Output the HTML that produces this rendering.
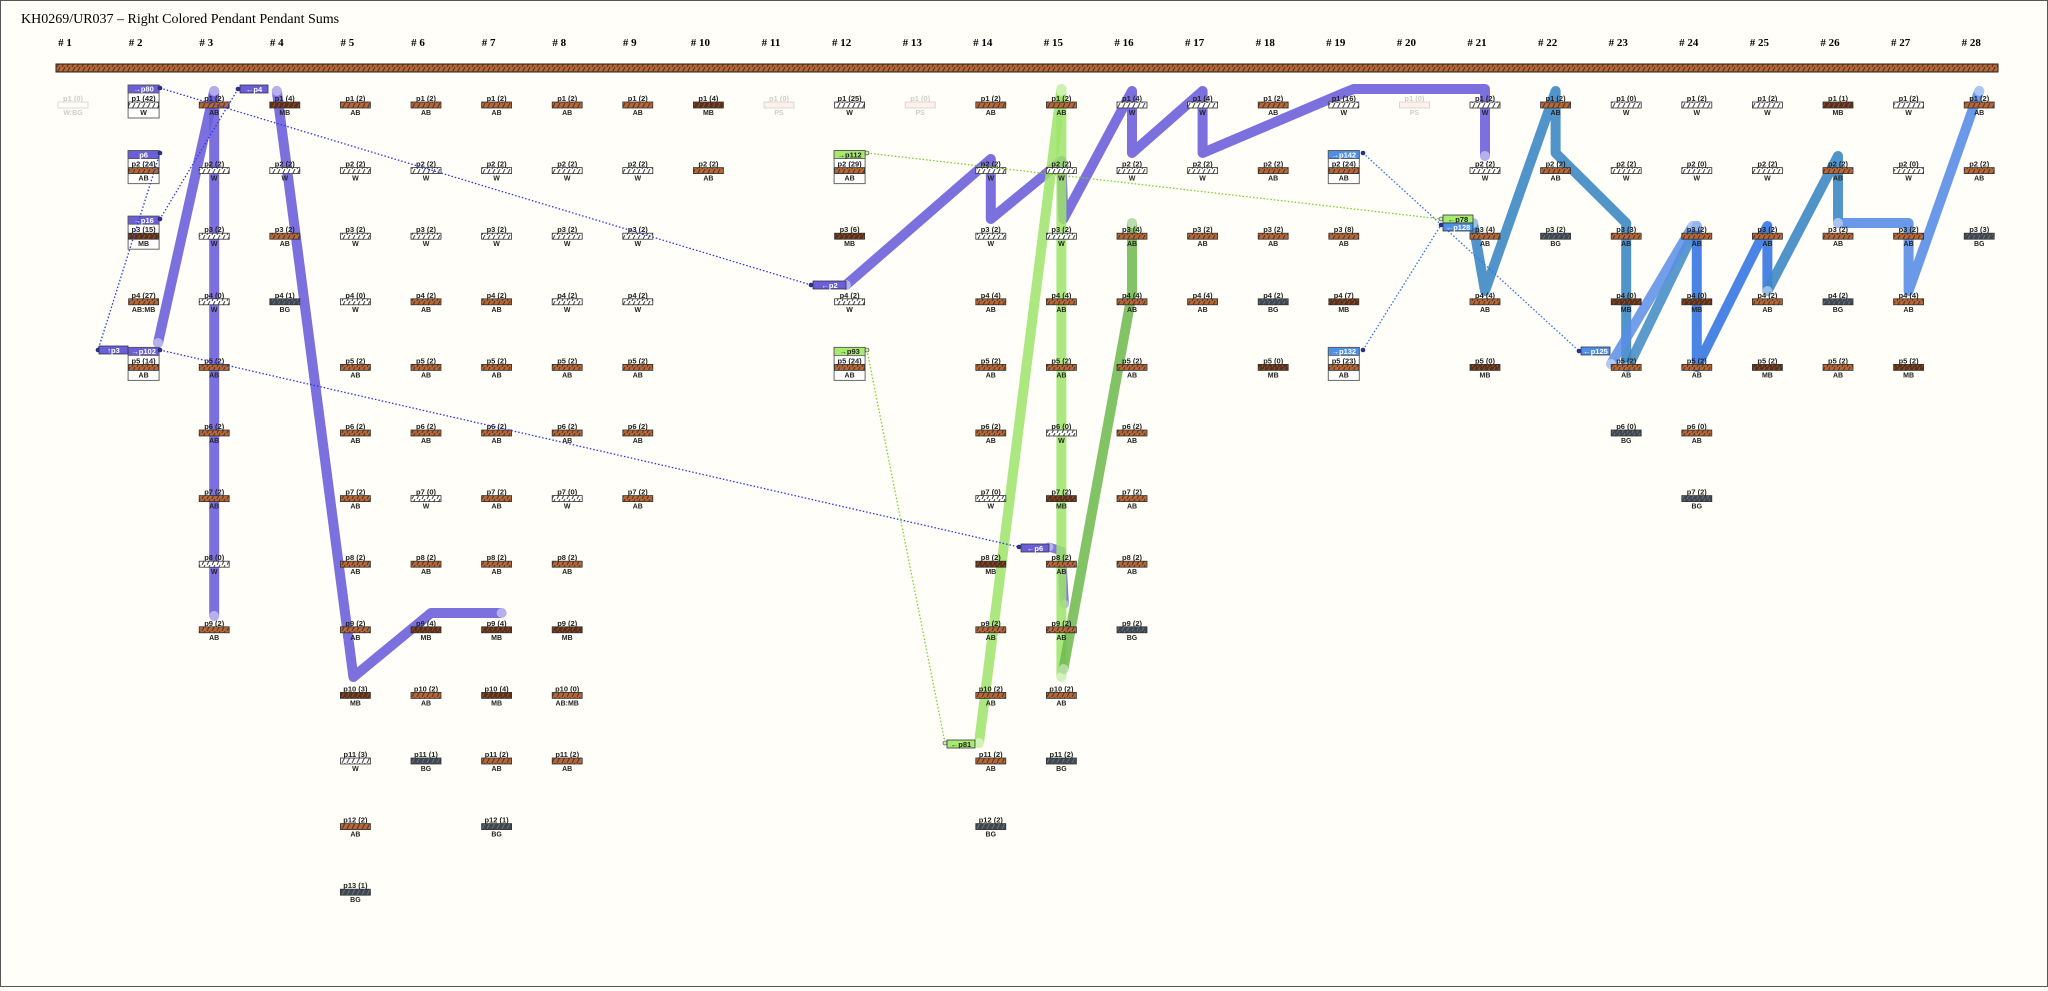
<!DOCTYPE html>
<html><head><meta charset="utf-8"><style>
html,body{margin:0;padding:0;background:#fffef8;}
body{width:2048px;height:987px;overflow:hidden;}
#wrap{position:absolute;left:0;top:0;width:2046px;height:985px;border:1px solid #555;background:#fffef8;}
svg text{font-family:"Liberation Sans",sans-serif;}
</style></head><body><div id="wrap">
<svg id="s" width="2046" height="985" xmlns="http://www.w3.org/2000/svg">
<defs>
<pattern id="pAB" width="5" height="6" patternUnits="userSpaceOnUse"><rect width="5" height="6" fill="#b3683b"/><line x1="1" y1="6" x2="4" y2="0" stroke="#5e2f15" stroke-width="1"/></pattern>
<pattern id="pMB" width="5" height="6" patternUnits="userSpaceOnUse"><rect width="5" height="6" fill="#5c2f19"/><line x1="1" y1="6" x2="4" y2="0" stroke="#8d5231" stroke-width="1"/></pattern>
<pattern id="pW" width="5" height="6" patternUnits="userSpaceOnUse"><rect width="5" height="6" fill="#fff"/><line x1="1" y1="6" x2="4" y2="0" stroke="#444" stroke-width="1"/></pattern>
<pattern id="pBG" width="5" height="6" patternUnits="userSpaceOnUse"><rect width="5" height="6" fill="#3f4852"/><line x1="1" y1="6" x2="4" y2="0" stroke="#68727c" stroke-width="1"/></pattern>
</defs>
<text x="20" y="22" font-size="14" style="font-family:'Liberation Serif',serif">KH0269/UR037 – Right Colored Pendant Pendant Sums</text>
<g id="g"></g>
</svg></div>
<script>
const NS="http://www.w3.org/2000/svg",g=document.getElementById('g');
function el(t,a,txt){const e=document.createElementNS(NS,t);for(const k in a)e.setAttribute(k,a[k]);if(txt!==undefined)e.textContent=txt;g.appendChild(e);return e;}
const cx=i=>72+70.6*(i-1), ry=k=>97+65.6*(k-1);
for(let i=1;i<=28;i++) el('text',{x:cx(i)-8,y:45,'font-size':11,'font-weight':'bold','text-anchor':'middle',style:"font-family:'Liberation Serif',serif"},'# '+i);
el('rect',{x:55,y:63,width:1942,height:8,fill:'url(#pAB)',stroke:'#222','stroke-width':1});
const D={
1:[['0','W:BG','f']],
2:[['42','W','b'],['24','AB','b'],['15','MB','b'],['27','AB:MB'],['14','AB','b']],
3:[['2','AB'],['2','W'],['2','W'],['0','W'],['2','AB'],['2','AB'],['2','AB'],['0','W'],['2','AB']],
4:[['4','MB'],['2','W'],['2','AB'],['1','BG']],
5:[['2','AB'],['2','W'],['2','W'],['0','W'],['2','AB'],['2','AB'],['2','AB'],['2','AB'],['2','AB'],['3','MB'],['3','W'],['2','AB'],['1','BG']],
6:[['2','AB'],['2','W'],['2','W'],['2','AB'],['2','AB'],['2','AB'],['0','W'],['2','AB'],['4','MB'],['2','AB'],['1','BG']],
7:[['2','AB'],['2','W'],['2','W'],['2','AB'],['2','AB'],['2','AB'],['2','AB'],['2','AB'],['4','MB'],['4','MB'],['2','AB'],['1','BG']],
8:[['2','AB'],['2','W'],['2','W'],['2','W'],['2','AB'],['2','AB'],['0','W'],['2','AB'],['2','MB'],['0','AB:MB'],['2','AB']],
9:[['2','AB'],['2','W'],['2','W'],['2','W'],['2','AB'],['2','AB'],['2','AB']],
10:[['4','MB'],['2','AB']],
11:[['0','PS','f']],
12:[['25','W'],['29','AB','b'],['6','MB'],['2','W'],['24','AB','b']],
13:[['0','PS','f']],
14:[['2','AB'],['2','W'],['2','W'],['4','AB'],['2','AB'],['2','AB'],['0','W'],['2','MB'],['2','AB'],['2','AB'],['2','AB'],['2','BG']],
15:[['2','AB'],['2','W'],['2','W'],['4','AB'],['2','AB'],['0','W'],['2','MB'],['2','AB'],['2','AB'],['2','AB'],['2','BG']],
16:[['4','W'],['2','W'],['4','AB'],['4','AB'],['2','AB'],['2','AB'],['2','AB'],['2','AB'],['2','BG']],
17:[['4','W'],['2','W'],['2','AB'],['4','AB']],
18:[['2','AB'],['2','AB'],['2','AB'],['2','BG'],['0','MB']],
19:[['16','W'],['24','AB','b'],['8','AB'],['7','MB'],['23','AB','b']],
20:[['0','PS','f']],
21:[['2','W'],['2','W'],['4','AB'],['4','AB'],['0','MB']],
22:[['2','AB'],['2','AB'],['2','BG']],
23:[['0','W'],['2','W'],['3','AB'],['0','MB'],['2','AB'],['0','BG']],
24:[['2','W'],['0','W'],['2','AB'],['0','MB'],['2','AB'],['0','AB'],['2','BG']],
25:[['2','W'],['2','W'],['2','AB'],['2','AB'],['2','MB']],
26:[['1','MB'],['2','AB'],['2','AB'],['2','BG'],['2','AB']],
27:[['2','W'],['0','W'],['2','AB'],['4','AB'],['2','MB']],
28:[['2','AB'],['2','AB'],['3','BG']]
};
const boxHdr={'2_1':['→p80','#6a5fd6'],'2_2':['p6','#6a5fd6'],'2_3':['→p16','#6a5fd6'],'2_5':['→p102','#6a5fd6'],
'12_2':['→p112','#a6ea6e'],'12_5':['→p93','#a6ea6e'],'19_2':['→p142','#4f8fe6'],'19_5':['→p132','#4f8fe6']};
function pl(pts,col,w,op){el('polyline',{points:pts.map(p=>p.join(',')).join(' '),fill:'none',stroke:col,'stroke-width':w,'stroke-linecap':'round','stroke-linejoin':'round',opacity:op});
 [pts[0],pts[pts.length-1]].forEach(p=>el('circle',{cx:p[0],cy:p[1],r:w/2,fill:'#fff',opacity:0.45}));}
const P='#6d61d9',X=c=>cx(c);
pl([[X(3),90],[157,342]],P,10,0.9);
pl([[X(3),90],[X(3),615]],P,10,0.9);
pl([[X(4)-8,90],[X(5)-2,676],[X(6)+5,612],[X(7)+5,612]],P,10,0.9);
pl([[845,284],[X(14),158],[X(14),218],[X(15),160],[X(15)+2,218],[X(16),90],[X(16),152],[X(17),90],[X(17),152],[X(19),92],[X(19)+10,88],[X(21),88],[X(21),155]],P,10,0.9);
pl([[1048,546],[X(15),550],[X(15)+3,603]],P,9,0.85);
pl([[978,742],[X(15),88]],'#9ee46a',10,0.85);
pl([[X(15),90],[X(15),676]],'#9ee46a',10,0.85);
pl([[X(15)+2,668],[X(16),292],[X(16),222]],'#6cb84c',10,0.85);
const S='#3d88c4';
pl([[X(21)-12,222],[X(21),290],[X(22),90],[X(22),152],[X(23),222],[X(23),366]],S,10,0.9);
pl([[X(23)+2,366],[X(24),225]],S,10,0.85);
pl([[1610,363],[X(24)-4,225]],'#5b8ee8',10,0.85);
pl([[X(24),225],[X(24),366],[X(25),225],[X(25),290]],'#2a6fe0',10,0.85);
pl([[X(25),290],[X(26),155],[X(26),222]],S,10,0.9);
pl([[X(26),222],[X(27),222],[X(27),290],[X(28),90]],'#5b8ee8',10,0.9);
for(const c in D){D[c].forEach((n,idx)=>{const k=idx+1,x=cx(+c),y=ry(k);const [cnt,t,f]=n;
 const grp=document.createElementNS(NS,'g');g.appendChild(grp);
 if(f==='f')grp.setAttribute('opacity','0.22');
 const add=(tag,a,txt)=>{const e=document.createElementNS(NS,tag);for(const q in a)e.setAttribute(q,a[q]);if(txt!==undefined)e.textContent=txt;grp.appendChild(e);};
 const key=c+'_'+k;
 if(f==='b'){add('rect',{x:x-15.5,y:y-13,width:31,height:33,fill:'#fff',stroke:'#666','stroke-width':1});
  const h=boxHdr[key];add('rect',{x:x-15.5,y:y-13,width:31,height:8,fill:h[1],stroke:'#555','stroke-width':0.8});
  add('text',{x:x,y:y-6.3,'font-size':7.5,'font-weight':'bold','text-anchor':'middle',fill:h[1]=='#a6ea6e'?'#222':'#fff'},h[0]);}
 add('text',{x:x,y:y+3,'font-size':7.5,'font-weight':'bold','text-anchor':'middle',fill:'#222'},'p'+k+' ('+cnt+')');
 let fill=t=='PS'?'#f2c8c0':(t.indexOf('AB')==0?'url(#pAB)':'url(#p'+t+')');
 add('rect',{x:x-15,y:y+4,width:30,height:6,fill:fill,stroke:'#333','stroke-width':0.8});
 add('text',{x:x,y:y+17,'font-size':7,'font-weight':'bold','text-anchor':'middle',fill:'#222'},t);
});}
function dl(a,b,col){el('line',{x1:a[0],y1:a[1],x2:b[0],y2:b[1],stroke:col,'stroke-width':1.3,'stroke-dasharray':'1.5,2'});
 [a,b].forEach(p=>el('circle',{cx:p[0],cy:p[1],r:2,fill:col==='#7ad12a'?'#cfeeb0':'#2233aa',stroke:'#223','stroke-width':0.6}));}
function sb(x,y,w,txt,col,dark){el('rect',{x:x,y:y,width:w,height:8,fill:col,stroke:'#334','stroke-width':0.8});
 el('text',{x:x+w/2,y:y+6.8,'font-size':7.5,'font-weight':'bold','text-anchor':'middle',fill:dark?'#222':'#fff'},txt);}
const B='#2b35e8';
dl([159,87],[810,284],B); sb(812,280,33,'←p2','#6a5fd6');
sb(239,84,28,'←p4','#6a5fd6'); dl([237,88],[159,218],B);
dl([159,152],[97,349],B); sb(98,345,29,'↑p3','#6a5fd6');
dl([159,349],[1018,546],B); sb(1020,543,28,'←p6','#6a5fd6');
dl([866,152],[1440,218],'#7ad12a'); sb(1442,214,30,'←p78','#a6ea6e',1);
dl([866,349],[944,742],'#7ad12a'); sb(946,739,28,'←p81','#a6ea6e',1);
dl([1362,152],[1578,350],'#2f6ff0'); sb(1580,346,29,'←p125','#4f8fe6');
dl([1362,349],[1440,224],'#2f6ff0'); sb(1442,222,30,'←p128','#4f8fe6');
</script>
</body></html>
